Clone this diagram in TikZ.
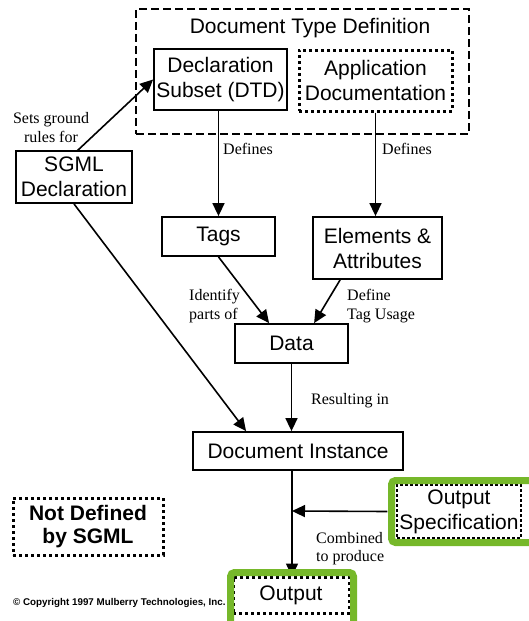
\documentclass[tikz,border=0pt]{standalone}
\usepackage{fontspec}
\setmainfont{Liberation Sans}
\newfontfamily\serifl{Liberation Serif}
\usetikzlibrary{arrows.meta}
\definecolor{mgreen}{RGB}{118,184,42}
\begin{document}
\begin{tikzpicture}[x=1pt,y=-1pt,
  box/.style={draw,line width=1.8pt,inner sep=0pt,align=center,font=\fontsize{21}{25}\selectfont},
  dotbox/.style={box,line width=3pt,dash pattern=on 3pt off 3pt},
  dashbox/.style={draw,line width=1.8pt,dash pattern=on 8pt off 4pt},
  lbl/.style={font=\serifl\fontsize{16}{18.5}\selectfont,inner sep=0pt,align=left},
  arr/.style={line width=1.6pt,-{Triangle[length=13pt,width=12pt]}},
  ln/.style={line width=1.6pt},
  gframe/.style={draw=mgreen,line width=7pt,rounded corners=4pt}
]
\useasboundingbox (0,0) rectangle (529,621);
% DTD container
\node[dashbox,minimum width=333pt,minimum height=125pt,inner sep=0pt] (dtd) at (302.5,71.5) {};
\node[font=\fontsize{21}{25}\selectfont,inner sep=0pt] (dtdt) at (310,28) {Document Type Definition};
\node[box,minimum width=133pt,minimum height=61pt] (decl) at (220.5,79.5) {Declaration\\Subset (DTD)};
\node[dotbox,minimum width=153pt,minimum height=61pt] (app) at (375.5,80.5) {Application\\Documentation};
\node[box,minimum width=116pt,minimum height=52pt] (sgml) at (74,177) {SGML\\Declaration};
\node[box,minimum width=113pt,minimum height=39pt] (tags) at (218.5,236.5) {Tags};
\node[box,minimum width=129pt,minimum height=62pt] (elem) at (377.5,248) {Elements \&\\Attributes};
\node[box,minimum width=113pt,minimum height=39pt] (data) at (291.5,343.5) {Data};
\node[box,minimum width=210pt,minimum height=38pt] (doc) at (298,451) {Document Instance};
\node[dotbox,minimum width=150pt,minimum height=57pt,font=\bfseries\fontsize{21}{23}\selectfont] (notdef) at (88,526.5) {Not Defined\\by SGML};
\node[box,line width=1.5pt,dash pattern=on 3pt off 2pt,minimum width=124pt,minimum height=53pt] (spec) at (459,511.5) {Output\\Specification};
\node[dotbox,minimum width=116pt,minimum height=36pt] (out) at (291,595) {Output};
% labels
\node[lbl,align=center] (l1) at (51,127.5) {Sets ground\\rules for};
\node[lbl,anchor=west] (l2) at (223,149) {Defines};
\node[lbl,anchor=west] (l3) at (382,149) {Defines};
\node[lbl,anchor=west] (l4) at (189,306) {Identify\\parts of};
\node[lbl,anchor=west] (l5) at (347,306) {Define\\Tag Usage};
\node[lbl,anchor=west] (l6) at (311,401) {Resulting in};
\node[lbl,anchor=west] (l7) at (316,548.5) {Combined\\to produce};
\node[anchor=west,inner sep=0pt,font=\bfseries\fontsize{9.8}{11}\selectfont] (copy) at (13,603) {© Copyright 1997 Mulberry Technologies, Inc.};
% connectors
\coordinate (sg1) at (77,151);
\draw[arr] (sg1) -- (decl.west);
\draw[arr] (decl.south -| tags.north) -- (tags.north);
\draw[arr] (app.south) -- (app.south |- elem.north);
\draw[arr] (tags.south) -- ([xshift=35pt]data.north west);
\draw[arr] ([xshift=28pt]elem.south west) -- ([xshift=80pt]data.north west);
\draw[arr] (data.south) -- (data.south |- doc.north);
\draw[arr] (sgml.south) -- ([xshift=54pt]doc.north west);
\coordinate (j) at (292,511);
\draw[ln] (doc.south -| j) -- (j);
\draw[arr,shorten >=-1pt] (j) -- (j |- out.north);
\draw[arr] ([xshift=-9pt]spec.west) -- (j);
% green frames
\draw[gframe] (391.5,480.5) rectangle (534,542.5);
\draw[gframe] (230.5,572.5) rectangle (353.5,628);
\end{tikzpicture}
\end{document}
